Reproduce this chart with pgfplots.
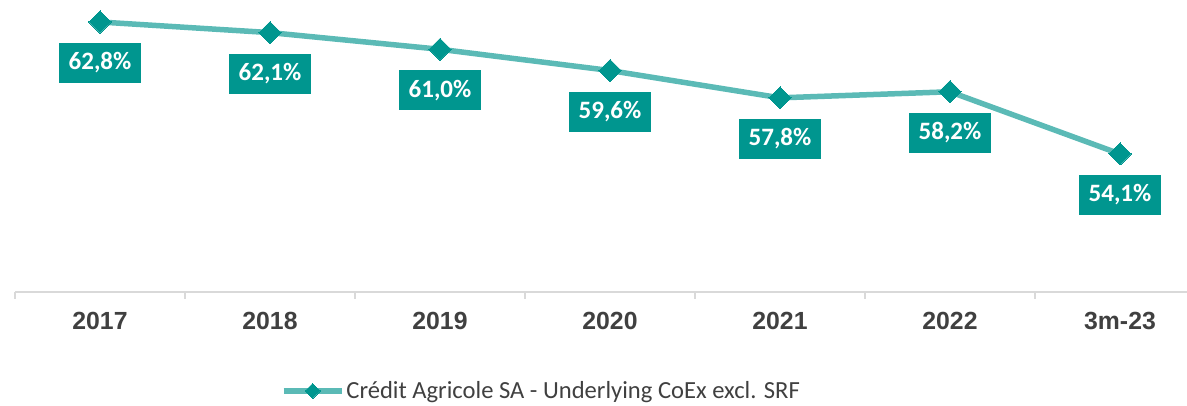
\documentclass[border=0pt]{standalone}
\usepackage{pgfplots}
\pgfplotsset{compat=1.18}
\usepackage{fontspec}
\setmainfont{Carlito}
\newfontfamily\lsans{Liberation Sans}
\definecolor{lineteal}{HTML}{5BBAB6}
\definecolor{darkteal}{HTML}{00968F}
\definecolor{axgray}{HTML}{D9D9D9}
\definecolor{txtgray}{HTML}{404040}
\begin{document}
\begin{tikzpicture}
\useasboundingbox (-7.5pt,-57pt) rectangle (586pt,146pt);
\begin{axis}[
 at={(0,0)}, anchor=south west,
 scale only axis, width=595pt, height=146pt,
 xmin=-0.5, xmax=6.5, ymin=45, ymax=64.25,
 clip=false,
 axis x line=bottom, axis y line=none,
 axis line style={-, draw=axgray, line width=1pt},
 xtick={0,...,6}, xticklabels={2017,2018,2019,2020,2021,2022,3m-23},
 major tick length=0pt,
 minor xtick={-0.5,0.5,...,6.5},
 minor tick length=3.5pt, tick align=outside,
 minor tick style={draw=axgray, line width=1pt},
 xticklabel style={font=\lsans\bfseries\fontsize{12.4}{14}\selectfont, text=txtgray, anchor=center, yshift=-14.5pt},
 nodes near coords, point meta=explicit symbolic,
 every node near coord/.append style={anchor=north, yshift=-10.5pt, fill=darkteal, text=white, font=\bfseries\fontsize{12.5}{15}\selectfont, minimum height=20pt, inner xsep=4.75pt, inner ysep=0pt},
 legend style={at={(0.4424,-0.339)}, anchor=center, draw=none, fill=none, font=\fontsize{12.3}{14}\selectfont, text=txtgray, inner sep=0pt, nodes={inner xsep=1pt}},
 legend image code/.code={\draw[mark repeat=2,mark phase=2,#1, mark size=2.65pt] plot coordinates {(0pt,0pt) (14.5pt,0pt) (29pt,0pt)};},
]
\addplot[color=lineteal, line width=2.75pt, mark=square*, mark size=3.9pt, mark options={rotate=45, fill=darkteal, draw=darkteal, line width=0pt}]
 coordinates {(0,62.8) [62,8\%] (1,62.1) [62,1\%] (2,61.0) [61,0\%] (3,59.6) [59,6\%] (4,57.8) [57,8\%] (5,58.2) [58,2\%] (6,54.1) [54,1\%]};
\addlegendentry{Crédit Agricole SA - Underlying CoEx excl. SRF}
\end{axis}
\end{tikzpicture}
\end{document}
